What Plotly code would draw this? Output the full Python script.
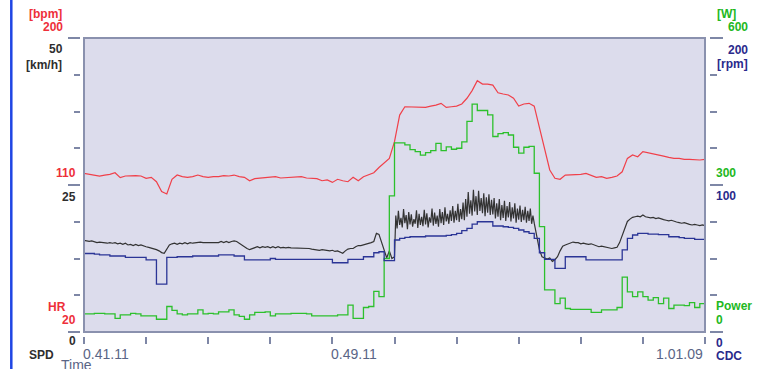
import plotly.graph_objects as go

# ---------------- data ----------------
time_10s = list(range(0, 1201, 10))   # seconds since 0:41:11

hr_bpm = [
    117.1, 116.7, 116.1, 115.5, 116.1, 116.5, 117.5, 114.5, 115.5, 115.7,
    115.7, 115.5, 114.1, 114.7, 112.0, 106.0, 104.5, 113.5, 116.1, 115.1,
    114.7, 115.1, 116.1, 115.1, 114.7, 115.1, 115.1, 115.7, 115.5, 116.1,
    115.1, 114.7, 112.6, 113.9, 114.1, 114.5, 114.7, 115.1, 114.3, 114.5,
    114.7, 114.5, 115.1, 114.3, 114.3, 113.9, 112.6, 113.1, 111.6, 113.5,
    112.6, 112.0, 114.7, 112.6, 115.1, 116.1, 117.5, 120.7, 123.3, 126.3,
    136.5, 152.8, 157.9, 157.9, 157.5, 157.9, 157.5, 158.3, 158.9, 160.0,
    157.5, 157.9, 158.3, 159.6, 163.1, 167.8, 173.9, 171.8, 171.8, 171.2,
    166.5, 165.7, 165.1, 163.1, 158.3, 159.6, 160.0, 158.3, 145.7, 133.1,
    119.2, 114.1, 113.5, 116.1, 116.1, 116.1, 116.5, 117.1, 116.1, 114.7,
    115.1, 114.1, 114.7, 115.5, 118.1, 126.3, 128.4, 127.3, 130.4, 129.8,
    128.9, 128.4, 127.7, 126.9, 126.3, 126.3, 125.7, 125.7, 125.3, 125.3,
    125.7,
]

power_w = [
    37, 37, 38, 38, 37, 37, 28, 35, 35, 38,
    37, 33, 33, 33, 26, 26, 52, 44, 37, 35,
    37, 37, 45, 37, 38, 37, 41, 41, 45, 35,
    32, 26, 35, 40, 40, 41, 33, 37, 37, 37,
    38, 38, 38, 37, 33, 33, 33, 33, 33, 35,
    35, 55, 28, 28, 50, 52, 83, 72, 150, 278,
    386, 386, 382, 372, 368, 361, 366, 370, 385, 370,
    378, 373, 375, 388, 430, 465, 452, 452, 443, 399,
    405, 407, 402, 377, 365, 377, 379, 324, 215, 86,
    86, 58, 69, 48, 46, 46, 46, 46, 40, 40,
    45, 45, 45, 50, 112, 82, 72, 82, 72, 65,
    70, 58, 69, 48, 55, 55, 54, 60, 50, 58,
    58,
]

cadence_rpm = [
    53.4, 53.4, 53.0, 52.4, 52.4, 51.7, 51.7, 51.7, 50.8, 50.8,
    50.8, 50.8, 49.0, 49.0, 32.6, 32.6, 50.8, 50.8, 51.2, 51.2,
    51.2, 51.7, 51.7, 51.7, 51.7, 51.7, 52.4, 52.4, 52.4, 51.7,
    51.7, 49.0, 49.0, 49.0, 49.0, 49.0, 50.0, 49.4, 49.4, 49.4,
    49.4, 49.4, 49.4, 49.4, 49.4, 49.4, 49.4, 49.4, 47.1, 47.1,
    47.1, 49.4, 49.4, 49.4, 51.2, 51.2, 53.9, 54.6, 48.5, 48.5,
    62.6, 63.7, 64.4, 64.8, 64.8, 64.8, 65.3, 65.3, 65.3, 65.3,
    65.7, 66.2, 67.1, 68.9, 70.5, 73.4, 75.0, 75.0, 75.0, 72.1,
    72.1, 71.6, 71.2, 70.5, 69.4, 68.2, 67.1, 63.7, 53.9, 49.4,
    49.4, 43.3, 43.3, 51.2, 51.2, 51.2, 51.2, 49.0, 49.0, 49.0,
    49.0, 49.0, 49.0, 49.0, 55.8, 63.7, 66.0, 67.1, 67.1, 66.6,
    66.6, 66.2, 66.2, 64.8, 64.8, 64.2, 63.7, 63.7, 63.0, 63.0,
    63.0,
]

# speed is sampled every 5 s, every 2.5 s in the fast-varying interval section
speed_time = ([i * 5 for i in range(121)]
              + [600 + 2.5 * i for i in range(1, 109)]
              + [870 + 5 * i for i in range(1, 67)])

speed_kmh = [
    # 0 - 595 s (5 s)
    15.6, 15.5, 15.4, 15.5, 15.3, 15.2, 15.3, 15.2, 15.2, 15.1,
    15.2, 15.1, 15.2, 15.0, 15.1, 14.9, 15.1, 14.8, 14.9, 14.7,
    14.9, 14.7, 14.8, 14.6, 14.5, 14.4, 14.3, 14.2, 14.0, 13.8,
    13.5, 13.4, 14.2, 14.8, 15.0, 15.1, 14.9, 15.1, 15.0, 15.2,
    15.0, 15.2, 15.1, 15.2, 15.2, 15.3, 15.2, 15.2, 15.2, 15.3,
    15.2, 15.3, 15.2, 15.4, 15.2, 15.4, 15.2, 15.4, 15.5, 15.4,
    15.1, 14.7, 14.4, 14.2, 14.0, 14.2, 14.3, 14.5, 14.3, 14.5,
    14.4, 14.5, 14.3, 14.5, 14.3, 14.5, 14.3, 14.4, 14.3, 14.4,
    14.3, 14.3, 14.2, 14.3, 14.2, 14.3, 14.2, 14.2, 14.1, 14.0,
    14.0, 13.9, 14.0, 13.9, 13.9, 13.8, 13.9, 13.7, 13.8, 13.6,
    13.4, 13.8, 14.1, 14.2, 14.2, 14.5, 14.7, 14.7, 14.8, 14.9,
    15.0, 15.2, 15.4, 16.8, 16.6, 15.2, 13.6, 12.6, 13.8, 12.5,
    # 600 s
    12.8,
    # 602.5 - 870 s (2.5 s)
    19.8, 17.6, 20.6, 18.2, 19.4, 17.8, 20.9, 18.5, 19.9, 17.5,
    20.4, 18.3, 20.0, 17.9, 19.2, 18.4, 20.7, 17.7, 20.1, 18.2,
    19.6, 18.0, 20.8, 18.3, 20.2, 17.8, 19.5, 18.6, 21.0, 18.1,
    20.3, 18.4, 19.8, 17.9, 20.9, 18.5, 20.4, 18.2, 21.2, 18.8,
    20.1, 18.4, 20.7, 18.9, 21.4, 18.6, 20.6, 19.0, 21.8, 18.7,
    20.9, 19.2, 22.0, 19.0,
    22.6, 19.6, 23.8, 20.1, 22.4, 19.8, 24.2, 20.5, 23.1, 19.9,
    24.0, 20.6, 22.8, 20.2, 23.6, 19.7, 22.9, 20.3, 23.4, 19.9,
    22.5, 20.0,
    22.8, 19.3, 21.9, 19.6, 22.6, 19.0, 21.6, 19.4, 22.3, 18.9,
    21.4, 19.5, 22.1, 18.8, 21.2, 19.3, 21.9, 18.6, 21.0, 19.1,
    21.5, 18.7, 20.8, 19.0,
    21.3, 18.6, 20.6, 18.9, 21.0, 18.4, 19.8, 18.5,
    # 875 - 1200 s (5 s)
    16.5, 14.0, 12.8, 12.6, 12.4,
    12.6, 12.0, 12.3, 12.8, 13.8, 14.6, 14.8, 15.0, 15.1, 15.3,
    15.2, 15.2, 15.0, 15.1, 15.0, 14.9, 15.0, 14.8, 14.7, 14.5,
    14.6, 14.5, 14.4, 14.3, 14.2, 14.3, 14.4, 15.2, 16.4, 17.8,
    18.8, 19.2, 19.5, 19.6, 19.7, 19.6, 19.9, 19.6, 19.5, 19.4,
    19.5, 19.3, 19.4, 19.2, 19.1, 19.0, 18.9, 19.0, 18.8, 18.7,
    18.6, 18.5, 18.6, 18.4, 18.3, 18.2, 18.3, 18.2, 18.1, 18.2,
    18.1,
]

x_tick_seconds = list(range(0, 1201, 120))
time_labels = ["0.41.11", "0.49.11", "1.01.09"]
time_label_seconds = [0, 480, 1200]

# ---------------- style / layout ----------------
W, H = 767, 369
ML, MR, MT, MB = 80, 58, 38, 33
PW = W - ML - MR
PH = H - MT - MB


def px(X):
    return (X - ML) / PW


def py(Y):
    return (H - MB - Y) / PH


RED = "#ee2f3a"
GREEN = "#22b822"
NAVY = "#2a2a8c"
DARK = "#2e2e2e"
TICK = "#7e87a6"
FONT = "Arial, 'Liberation Sans', sans-serif"

fig = go.Figure()
fig.add_trace(go.Scatter(x=time_10s, y=hr_bpm, yaxis="y", mode="lines",
                         line=dict(color="#f0404a", width=1.2), hoverinfo="skip"))
fig.add_trace(go.Scatter(x=speed_time, y=speed_kmh, yaxis="y2", mode="lines",
                         line=dict(color="#333333", width=1.2), hoverinfo="skip"))
fig.add_trace(go.Scatter(x=time_10s, y=power_w, yaxis="y3", mode="lines",
                         line=dict(color="#2cc02c", width=1.3, shape="hv"), hoverinfo="skip"))
fig.add_trace(go.Scatter(x=time_10s, y=cadence_rpm, yaxis="y4", mode="lines",
                         line=dict(color="#2b3596", width=1.3, shape="hv"), hoverinfo="skip"))

ydom = [py(332), 1]

fig.update_layout(
    width=W, height=H,
    margin=dict(l=ML, r=MR, t=MT, b=MB, pad=0),
    paper_bgcolor="white",
    plot_bgcolor="#dcdcec",
    showlegend=False,
    font=dict(family=FONT),
    xaxis=dict(domain=[px(84), px(705)], range=[0, 1200], anchor="free", position=0,
               tickmode="array", tickvals=x_tick_seconds, ticks="outside", ticklen=7,
               tickwidth=2, tickcolor=TICK, showticklabels=False, showgrid=False,
               zeroline=False, showline=False, fixedrange=True),
    yaxis=dict(domain=ydom, range=[20, 200], anchor="free", position=0, side="left",
               tickmode="array", tickvals=[20, 110, 200], ticks="outside", ticklen=12,
               tickwidth=2, tickcolor=TICK, showticklabels=False, showgrid=False,
               zeroline=False, showline=False,
               minor=dict(ticks="outside", tick0=20, dtick=22.5, ticklen=6,
                          tickwidth=2, tickcolor=TICK, showgrid=False)),
    yaxis2=dict(overlaying="y", range=[0, 50], visible=False),
    yaxis3=dict(overlaying="y", range=[0, 600], anchor="free", position=1, side="right",
                tickmode="array", tickvals=[0, 300, 600], ticks="outside", ticklen=13,
                tickwidth=2, tickcolor=TICK, showticklabels=False, showgrid=False,
                zeroline=False, showline=False,
                minor=dict(ticks="outside", tick0=0, dtick=75, ticklen=7,
                           tickwidth=2, tickcolor=TICK, showgrid=False)),
    yaxis4=dict(overlaying="y", range=[0, 200], visible=False),
)

# plot frame and left blue bar
fig.add_shape(type="rect", xref="x domain", yref="y domain", x0=0, x1=1, y0=0, y1=1,
              line=dict(color="#8a91ae", width=2), layer="above")
fig.add_shape(type="line", xref="paper", yref="paper", x0=px(11.3), x1=px(11.3),
              y0=py(369), y1=py(0), line=dict(color="#1f45e4", width=2.5))

# axis caption texts (text, colour, x pixel, anchor, y pixel centre)
side_labels = [
    ("[bpm]", RED, 64, "right", 14), ("200", RED, 65, "right", 27),
    ("50", DARK, 65, "right", 49), ("[km/h]", DARK, 64, "right", 65),
    ("110", RED, 78, "right", 173), ("25", DARK, 78, "right", 197),
    ("HR", RED, 68, "right", 307), ("20", RED, 78, "right", 320),
    ("0", DARK, 78, "right", 341), ("SPD", DARK, 56, "right", 355),
    ("[W]", GREEN, 738, "right", 14), ("600", GREEN, 750, "right", 27),
    ("200", NAVY, 750, "right", 50), ("[rpm]", NAVY, 750, "right", 64),
    ("300", GREEN, 714, "left", 173), ("100", NAVY, 714, "left", 196),
    ("Power", GREEN, 714, "left", 306), ("0", GREEN, 714, "left", 320),
    ("0", NAVY, 714, "left", 343), ("CDC", NAVY, 714, "left", 356),
]
for text, col, X, anc, Y in side_labels:
    fig.add_annotation(text=text, xref="paper", yref="paper", x=px(X), y=py(Y),
                       xanchor=anc, yanchor="middle", showarrow=False,
                       font=dict(family=FONT, size=12, color=col, weight="bold"))

for lab, sec in zip(time_labels, time_label_seconds):
    is_end = sec == 1200
    fig.add_annotation(text=lab, xref="x", yref="paper", x=sec, y=py(354),
                       xanchor="right" if is_end else "left", yanchor="middle",
                       xshift=0 if is_end else -3,
                       showarrow=False, font=dict(family=FONT, size=14, color="#5a6586"))

fig.add_annotation(text="Time", xref="paper", yref="paper", x=px(59), y=py(365),
                   xanchor="left", yanchor="middle", showarrow=False,
                   font=dict(family=FONT, size=14, color="#5a6586"))

fig.write_html("out.html", config={"displayModeBar": False},
               post_script="document.body.style.margin='0';document.body.style.overflow='hidden';")
